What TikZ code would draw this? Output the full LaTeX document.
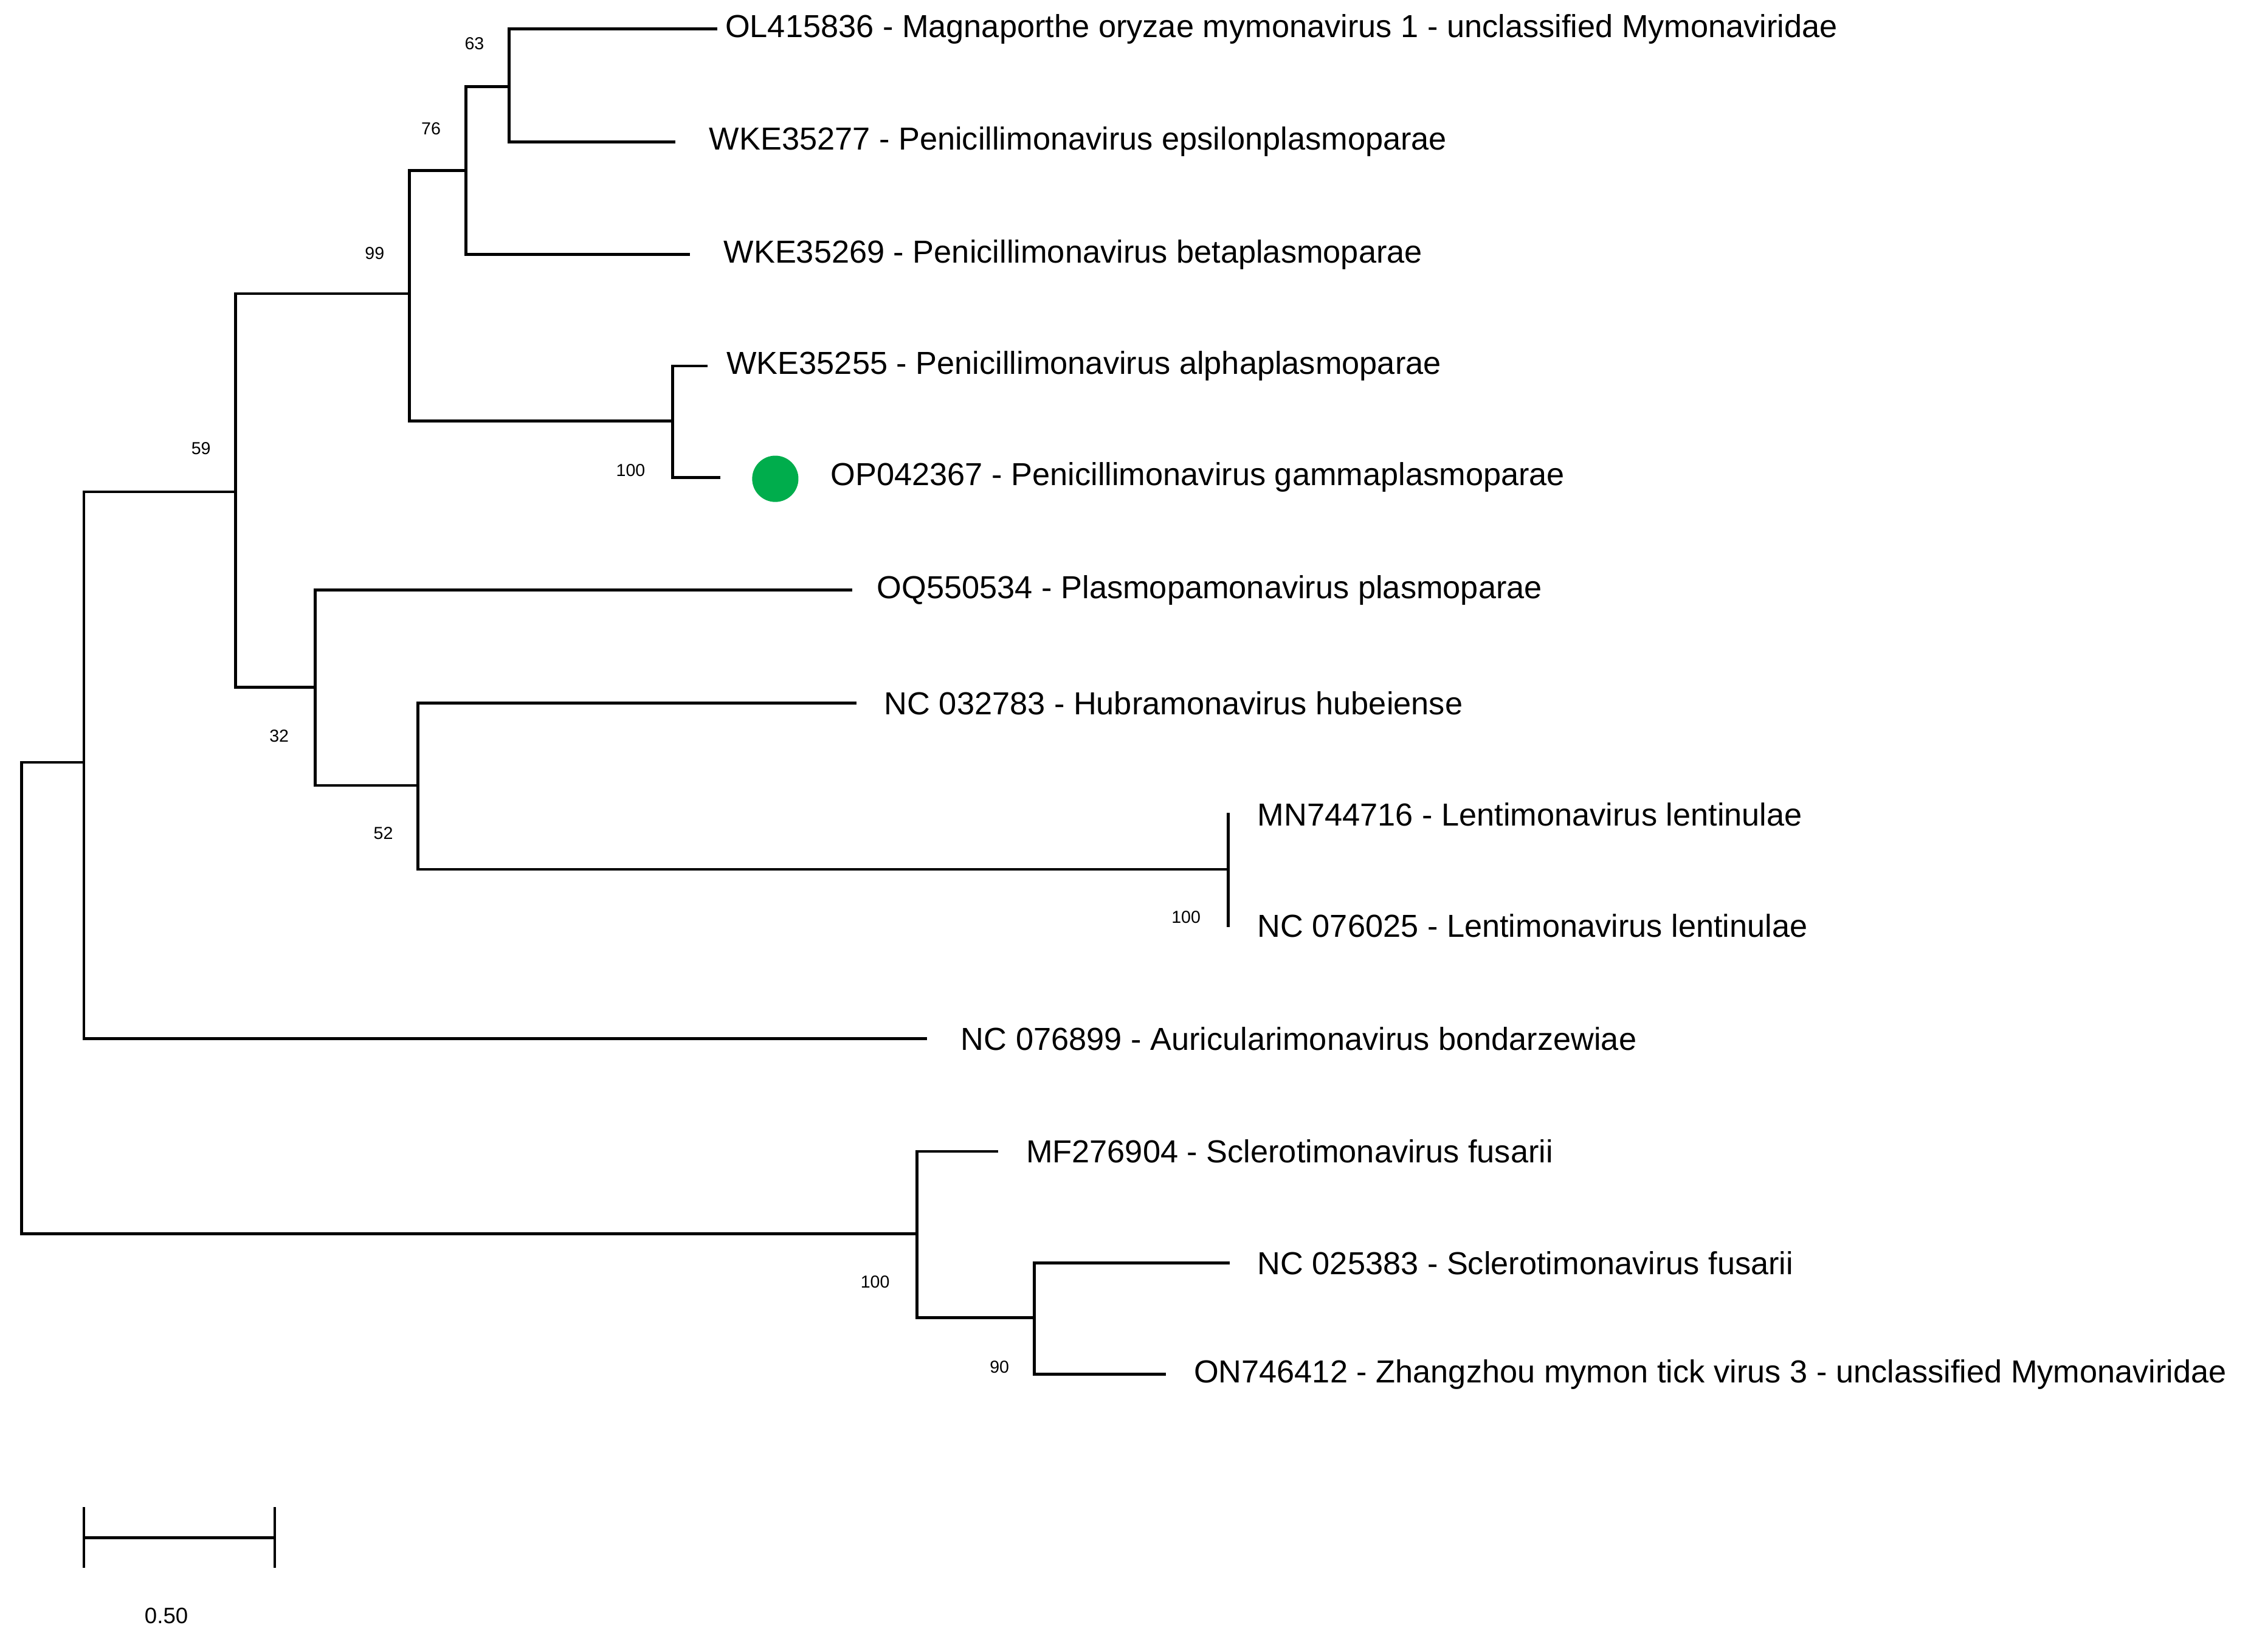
\documentclass[tikz,border=0pt]{standalone}
\usepackage{fontspec}
\setmainfont{Liberation Sans}
\begin{document}
\begin{tikzpicture}[x=0.5pt,y=-0.5pt,
  br/.style={line width=1pt, line cap=rect},
  lab/.style={anchor=west, font=\fontsize{11}{13}\selectfont, inner sep=0pt},
  bs/.style={font=\fontsize{6}{7}\selectfont, inner sep=0pt}]
\useasboundingbox (0,0) rectangle (1568,1135);
% internal nodes (at the height where they join their parent)
\coordinate (R) at (15,853);
\coordinate (A) at (58,527);
\coordinate (B) at (163,340);
\coordinate (C) at (283,203);
\coordinate (D) at (322,118);
\coordinate (E) at (352,60);
\coordinate (F) at (465,291);
\coordinate (G) at (218,475);
\coordinate (H) at (289,543);
\coordinate (I) at (849,601);
\coordinate (J) at (634,853);
\coordinate (K) at (715,911);
% leaves
\coordinate (t1) at (495,20);
\coordinate (t2) at (466,98);
\coordinate (t3) at (476,176);
\coordinate (t4) at (488,253);
\coordinate (t5) at (497,330);
\coordinate (t6) at (588,408);
\coordinate (t7) at (591,486);
\coordinate (t8) at (849,563);
\coordinate (t9) at (849,640);
\coordinate (t10) at (640,718);
\coordinate (t11) at (689,796);
\coordinate (t12) at (849,873);
\coordinate (t13) at (805,950);
% edges
\draw[br] (R) |- (A); \draw[br] (R) -- (J);
\draw[br] (A) |- (B); \draw[br] (A) |- (t10);
\draw[br] (B) |- (C); \draw[br] (B) |- (G);
\draw[br] (C) |- (D); \draw[br] (C) |- (F);
\draw[br] (D) |- (E); \draw[br] (D) |- (t3);
\draw[br] (E) |- (t1); \draw[br] (E) |- (t2);
\draw[br] (F) |- (t4); \draw[br] (F) |- (t5);
\draw[br] (G) |- (t6); \draw[br] (G) |- (H);
\draw[br] (H) |- (t7); \draw[br] (H) |- (I);
\draw[br] (I) -- (t8); \draw[br] (I) -- (t9);
\draw[br] (J) |- (t11); \draw[br] (J) |- (K);
\draw[br] (K) |- (t12); \draw[br] (K) |- (t13);
% labels
\node[lab] (l1) at ([xshift=3]t1) {OL415836 - Magnaporthe oryzae mymonavirus 1 - unclassified Mymonaviridae};
\node[lab] (l2) at ([xshift=12]t2) {WKE35277 - Penicillimonavirus epsilonplasmoparae};
\node[lab] (l3) at ([xshift=12]t3) {WKE35269 - Penicillimonavirus betaplasmoparae};
\node[lab] (l4) at ([xshift=7]t4) {WKE35255 - Penicillimonavirus alphaplasmoparae};
\node[circle, fill={rgb,255:red,0;green,173;blue,76}, minimum size=16pt, inner sep=0pt] (dot) at (536,331) {};
\node[lab] (l5) at (574,330) {OP042367 - Penicillimonavirus gammaplasmoparae};
\node[lab] (l6) at ([xshift=9]t6) {OQ550534 - Plasmopamonavirus plasmoparae};
\node[lab] (l7) at ([xshift=10]t7) {NC 032783 - Hubramonavirus hubeiense};
\node[lab] (l8) at ([xshift=10]t8) {MN744716 - Lentimonavirus lentinulae};
\node[lab] (l9) at ([xshift=10]t9) {NC 076025 - Lentimonavirus lentinulae};
\node[lab] (l10) at ([xshift=12]t10) {NC 076899 - Auricularimonavirus bondarzewiae};
\node[lab] (l11) at ([xshift=10]t11) {MF276904 - Sclerotimonavirus fusarii};
\node[lab] (l12) at ([xshift=10]t12) {NC 025383 - Sclerotimonavirus fusarii};
\node[lab] (l13) at ([xshift=10]t13) {ON746412 - Zhangzhou mymon tick virus 3 - unclassified Mymonaviridae};
% bootstrap
\node[bs] (b1) at (328,30) {63};
\node[bs] (b2) at (298,89) {76};
\node[bs] (b3) at (259,175) {99};
\node[bs] (b4) at (139,310) {59};
\node[bs] (b5) at (436,325) {100};
\node[bs] (b6) at (193,509) {32};
\node[bs] (b7) at (265,576) {52};
\node[bs] (b8) at (820,634) {100};
\node[bs] (b9) at (605,886) {100};
\node[bs] (b10) at (691,945) {90};
% scale bar
\coordinate (s1) at (58,1063); \coordinate (s2) at (190,1063);
\draw[br] (s1) -- (s2);
\draw[br] ([yshift=-10]s1) -- ([yshift=10]s1);
\draw[br] ([yshift=-10]s2) -- ([yshift=10]s2);
\node[font=\fontsize{7.7}{9}\selectfont, inner sep=0pt] (sl) at (115,1117) {0.50};
\end{tikzpicture}
\end{document}
